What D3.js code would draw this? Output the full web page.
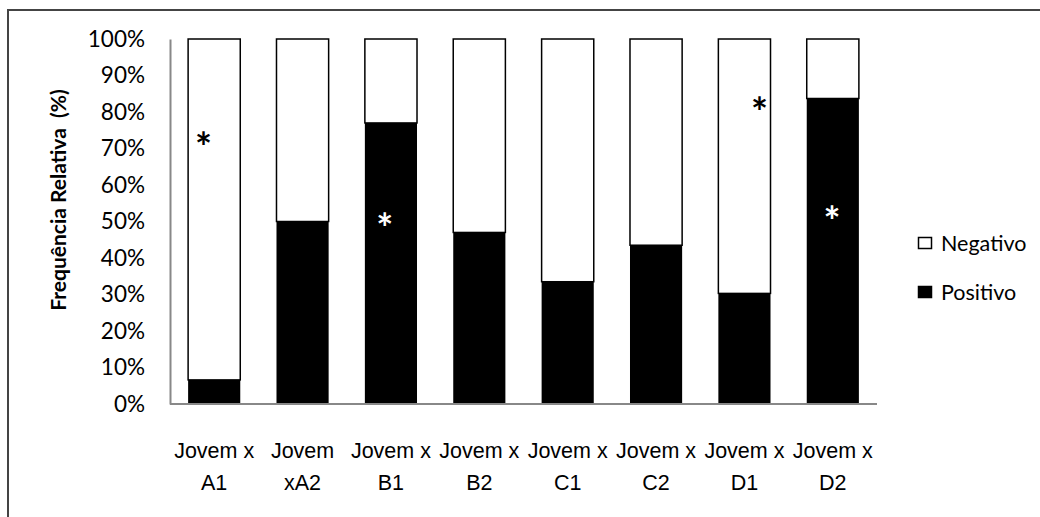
<!DOCTYPE html>
<html><head><meta charset="utf-8">
<script src="https://cdn.jsdelivr.net/npm/d3@7"></script>
<style>
html,body{margin:0;padding:0;background:#fff;}
svg{display:block;font-family:Lato, "Open Sans", sans-serif;}
</style></head>
<body>
<svg id="chart" width="1040" height="517"></svg>
<script>
const categories = ["Jovem x|A1","Jovem|xA2","Jovem x|B1","Jovem x|B2","Jovem x|C1","Jovem x|C2","Jovem x|D1","Jovem x|D2"];
const positivo = [6.6, 50, 77, 47, 33.5, 43.5, 30.3, 83.7];
const negativo = positivo.map(v => 100 - v);
const seriesNames = ["Negativo", "Positivo"];
const yTicks = [0,10,20,30,40,50,60,70,80,90,100];
const starCats = [0, 2, 6, 7];
const starVals = [72.7, 50.4, 82.3, 52.2];
const starOffsets = [-0.12, -0.07, 0.17, -0.01];
const starColors = ["#000", "#fff", "#000", "#fff"];

const svg = d3.select("#chart");
svg.append("path").attr("d","M8,517 L8,10 L1040,10").attr("fill","none").attr("stroke","#444").attr("stroke-width",2);

const mLeft = 170, mRight = 877, mTop = 39, mBottom = 404;
const x = d3.scaleBand().domain(d3.range(categories.length)).range([mLeft, mRight]).paddingInner(0.41).paddingOuter(0.205);
const y = d3.scaleLinear().domain([0,100]).range([mBottom, mTop]);

// bars
const g = svg.append("g");
categories.forEach((c,i) => {
  g.append("rect").attr("x", x(i)).attr("y", y(100)).attr("width", x.bandwidth())
    .attr("height", y(positivo[i]) - y(100)).attr("fill","#fff").attr("stroke","#000").attr("stroke-width",1.5);
  g.append("rect").attr("x", x(i)).attr("y", y(positivo[i])).attr("width", x.bandwidth())
    .attr("height", y(0) - y(positivo[i])).attr("fill","#000");
});

// axes
const yAxis = d3.axisLeft(y).tickValues(yTicks).tickFormat(d => d + "%").tickSize(0).tickPadding(25);
const ya = svg.append("g").attr("transform",`translate(${mLeft},0)`).call(yAxis);
ya.select(".domain").attr("stroke","#888").attr("stroke-width",2);
ya.selectAll("text").attr("font-size",22.5).attr("font-family","Lato").attr("fill","#000");

const xAxis = d3.axisBottom(x).tickSize(0).tickFormat("");
const xa = svg.append("g").attr("transform",`translate(0,${mBottom})`).call(xAxis);
xa.select(".domain").attr("stroke","#888").attr("stroke-width",2).attr("d",`M${mLeft},0H${mRight}`);
xa.selectAll(".tick").each(function(d){
  const parts = categories[d].split("|");
  const t = d3.select(this).append("text").attr("fill","#000").attr("font-size",21.5).attr("text-anchor","middle");
  t.append("tspan").attr("x",0).attr("y",54).text(parts[0]);
  t.append("tspan").attr("x",0).attr("y",86).text(parts[1]);
});

// y title
svg.append("text").attr("transform","translate(66,200) rotate(-90)").attr("text-anchor","middle")
  .attr("font-size",21).attr("font-weight","bold").style("white-space","pre")
  .text("Frequência Relativa  (%)");

// asterisks
starCats.forEach((c,k) => {
  svg.append("text").attr("x", x(c) + x.bandwidth()/2 + starOffsets[k]*x.step())
    .attr("y", y(starVals[k]) + 23).attr("text-anchor","middle").attr("font-size",40).attr("font-weight","bold")
    .attr("fill", starColors[k]).text("*");
});

// legend
const legY = [243, 292];
seriesNames.forEach((s,i) => {
  svg.append("rect").attr("x",918.5).attr("y",legY[i]-5.5).attr("width",13).attr("height",11)
    .attr("fill", i===0 ? "#fff" : "#000").attr("stroke","#000").attr("stroke-width",1.5);
  svg.append("text").attr("x",941).attr("y",legY[i]+8).attr("font-size",21.5).attr("fill","#000").text(s);
});
</script>
</body></html>
